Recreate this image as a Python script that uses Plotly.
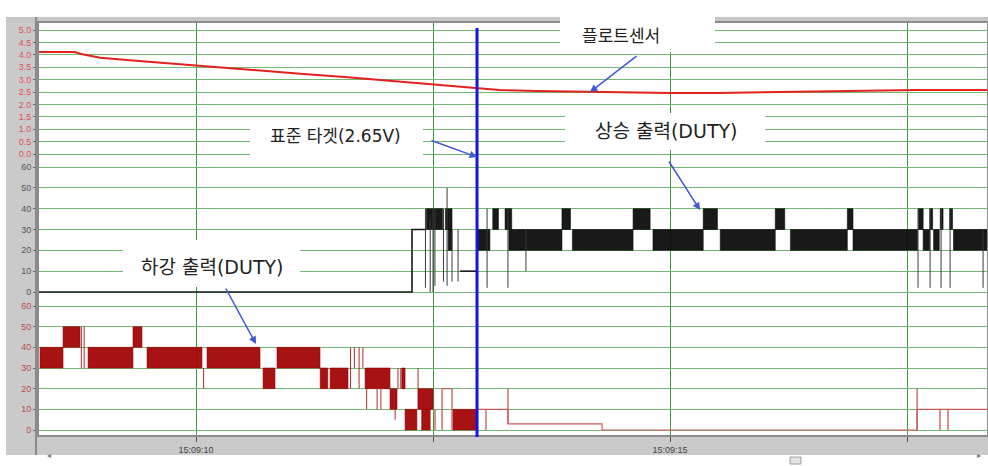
import plotly.graph_objects as go
from plotly.subplots import make_subplots

# ---------------------------------------------------------------
# Data (time = seconds after 15:09:00)
# ---------------------------------------------------------------
X_RANGE = [8.333, 18.354]
GRID_T = [7.5, 10.0, 12.5, 15.0, 17.5]
GRID_LABELS = ["", "15:09:10", "", "15:09:15", ""]

# float sensor voltage
SENSOR_T = [8.333, 8.72, 8.80, 8.99, 9.30, 9.65, 10.0, 10.5, 11.1, 11.6, 12.2,
            12.5, 12.96, 13.2, 13.6, 14.2, 15.0, 15.5, 16.4, 17.0, 17.6, 18.354]
SENSOR_V = [4.11, 4.11, 4.02, 3.88, 3.78, 3.67, 3.56, 3.40, 3.24, 3.10, 2.91,
            2.80, 2.65, 2.58, 2.54, 2.50, 2.46, 2.46, 2.52, 2.56, 2.58, 2.58]

# time at which the sensor reaches the 2.65 V target
TARGET_T = 12.964

# rising output duty: steady runs (step form), toggling bands, transients
RISE_STEP_T = [8.333, 12.278, 12.416, None, 12.785, 12.964]
RISE_STEP_V = [0, 30, 30, None, 10, 10]
RISE_BANDS = [  # (start, end, low duty, high duty)
    (12.43, 12.60, 30, 40), (12.63, 12.70, 30, 40), (12.66, 12.70, 20, 30),
    (12.975, 13.10, 20, 30), (13.13, 13.19, 30, 40), (13.26, 13.33, 30, 40),
    (13.30, 13.86, 20, 30), (13.86, 13.95, 30, 40), (13.97, 14.61, 20, 30),
    (14.61, 14.79, 30, 40), (14.82, 15.35, 20, 30), (15.35, 15.50, 30, 40),
    (15.53, 16.11, 20, 30), (16.11, 16.21, 30, 40), (16.27, 16.87, 20, 30),
    (16.87, 16.93, 30, 40), (16.93, 17.61, 20, 30), (17.62, 17.67, 30, 40),
    (17.67, 17.74, 20, 30), (17.74, 17.77, 30, 40), (17.78, 17.84, 20, 30),
    (17.85, 17.88, 30, 40), (17.95, 17.98, 30, 40), (17.99, 18.354, 20, 30),
]
RISE_SPIKES = [  # (time, low duty, high duty)
    (12.42, 2, 40), (12.47, 0, 35), (12.50, 0, 40), (12.52, 3, 40),
    (12.61, 5, 40), (12.648, 3, 50), (12.70, 5, 30), (12.764, 5, 30),
    (13.07, 2, 40), (13.29, 2, 40), (13.48, 10, 30), (17.616, 2, 40),
    (17.743, 2, 40), (17.859, 2, 40), (17.954, 2, 40), (18.302, 2, 30),
]

# falling output duty
FALL_STEP_T = [12.60, 12.70, None, 12.964, 13.291, 14.283, 17.606, 18.354]
FALL_STEP_V = [20, 20, None, 10, 3, 0, 10, 10]
FALL_BANDS = [
    (8.354, 8.597, 30, 40), (8.597, 8.776, 40, 50), (8.861, 9.335, 30, 40),
    (9.335, 9.43, 40, 50), (9.483, 10.063, 30, 40), (10.116, 10.675, 30, 40),
    (10.707, 10.833, 20, 30), (10.854, 11.308, 30, 40), (11.31, 11.39, 20, 30),
    (11.414, 11.603, 20, 30), (11.783, 12.046, 20, 30), (12.046, 12.12, 10, 20),
    (12.17, 12.205, 20, 30), (12.205, 12.33, 0, 10), (12.34, 12.50, 10, 20),
    (12.38, 12.47, 0, 10), (12.711, 12.964, 0, 10),
]
FALL_SPIKES = [
    (8.79, 30, 50), (8.82, 30, 50), (10.08, 20, 30), (11.63, 20, 40),
    (11.67, 30, 40), (11.72, 20, 40), (11.76, 30, 40), (11.80, 10, 20),
    (11.91, 10, 20), (11.95, 10, 20), (12.10, 5, 10), (12.13, 20, 30),
    (12.16, 20, 30), (12.342, 20, 30), (12.521, 0, 10), (12.595, 0, 20),
    (12.70, 0, 20), (13.059, 0, 10), (13.291, 3, 20), (17.606, 0, 20),
    (17.848, 0, 10), (17.932, 0, 10),
]

VOLT_TICKS = [0.0, 0.5, 1.0, 1.5, 2.0, 2.5, 3.0, 3.5, 4.0, 4.5, 5.0]
DUTY_TICKS = [0, 10, 20, 30, 40, 50, 60]

LABEL_SENSOR = "플로트센서"
LABEL_TARGET = "표준 타겟(2.65V)"
LABEL_RISE = "상승 출력(DUTY)"
LABEL_FALL = "하강 출력(DUTY)"

# ---------------------------------------------------------------
# Helpers
# ---------------------------------------------------------------
def band_path(bands):
    xs, ys = [], []
    for t0, t1, lo, hi in bands:
        xs += [t0, t1, t1, t0, t0, None]
        ys += [lo, lo, hi, hi, lo, None]
    return xs, ys


def spike_path(spikes):
    xs, ys = [], []
    for t, lo, hi in spikes:
        xs += [t, t, None]
        ys += [lo, hi, None]
    return xs, ys


# figure geometry (pixels)
W, H = 988, 466
ML, MR, MT, MB = 38, 0, 22, 30
PW, PH = W - ML - MR, H - MT - MB


def px(x):
    return (x - ML) / PW


def py(y):
    return (H - MB - y) / PH


fig = make_subplots(rows=3, cols=1, shared_xaxes=True, vertical_spacing=0)

# float sensor
fig.add_trace(go.Scatter(x=SENSOR_T, y=SENSOR_V, mode="lines",
                         line=dict(color="#e3221f", width=2)), row=1, col=1)

# rising output
bx, by = band_path(RISE_BANDS)
fig.add_trace(go.Scatter(x=bx, y=by, mode="lines", fill="toself",
                         fillcolor="rgba(8,8,8,0.93)",
                         line=dict(color="rgba(8,8,8,0.93)", width=0.6)), row=2, col=1)
sx, sy = spike_path(RISE_SPIKES)
fig.add_trace(go.Scatter(x=sx, y=sy, mode="lines",
                         line=dict(color="#3a3a3a", width=1)), row=2, col=1)
fig.add_trace(go.Scatter(x=RISE_STEP_T, y=RISE_STEP_V, mode="lines",
                         line=dict(color="#1a1a1a", width=1.6, shape="hv")), row=2, col=1)

# falling output
bx, by = band_path(FALL_BANDS)
fig.add_trace(go.Scatter(x=bx, y=by, mode="lines", fill="toself",
                         fillcolor="rgba(160,0,0,0.93)",
                         line=dict(color="rgba(160,0,0,0.93)", width=0.6)), row=3, col=1)
sx, sy = spike_path(FALL_SPIKES)
fig.add_trace(go.Scatter(x=sx, y=sy, mode="lines",
                         line=dict(color="#b02a2a", width=1)), row=3, col=1)
fig.add_trace(go.Scatter(x=FALL_STEP_T, y=FALL_STEP_V, mode="lines",
                         line=dict(color="#c85a5a", width=1.2, shape="hv")), row=3, col=1)

# ---------------------------------------------------------------
# Axes
# ---------------------------------------------------------------
HGRID = "#72b872"
VGRID = "#3f9a3f"
tick_font = dict(family="Liberation Sans, Arial, sans-serif", size=9)

for i in (1, 2, 3):
    fig.update_xaxes(row=i, col=1, range=X_RANGE, tickmode="array",
                     tickvals=GRID_T, ticktext=GRID_LABELS,
                     showgrid=True, gridcolor=VGRID, gridwidth=1,
                     zeroline=False, showline=False,
                     showticklabels=(i == 3),
                     ticks="outside" if i == 3 else "", ticklen=5,
                     tickcolor="#555555",
                     tickfont=dict(family="Liberation Sans, Arial, sans-serif",
                                   size=9, color="#444444"))

# panel domains: three equal bands; ranges leave a small pad around ticks
fig.update_yaxes(row=1, col=1, domain=[2 / 3, 1], range=[-0.242, 5.323],
                 tickmode="array", tickvals=VOLT_TICKS,
                 ticktext=[f"{v:.1f}" for v in VOLT_TICKS],
                 tickfont=dict(tick_font, color="#e2505a"))
fig.update_yaxes(row=2, col=1, domain=[1 / 3, 2 / 3], range=[-2.88, 63.36],
                 tickmode="array", tickvals=DUTY_TICKS,
                 ticktext=[str(v) for v in DUTY_TICKS],
                 tickfont=dict(tick_font, color="#555555"))
fig.update_yaxes(row=3, col=1, domain=[0, 1 / 3], range=[-2.90, 63.87],
                 tickmode="array", tickvals=DUTY_TICKS,
                 ticktext=[str(v) for v in DUTY_TICKS],
                 tickfont=dict(tick_font, color="#b84a4a"))
fig.update_yaxes(showgrid=True, gridcolor=HGRID, gridwidth=1, zeroline=False,
                 showline=False, ticks="outside", ticklen=4, tickcolor="#666666")


# ---------------------------------------------------------------
# Frame decoration (window chrome around the plot area)
# ---------------------------------------------------------------
def white_box(x0, x1, y0, y1):
    return dict(type="rect", xref="paper", yref="paper",
                x0=px(x0), x1=px(x1), y0=py(y1), y1=py(y0),
                fillcolor="white", line_width=0, layer="above")


shapes = [
    # left label strip
    dict(type="rect", xref="paper", yref="paper", x0=px(6), x1=px(38),
         y0=py(455), y1=py(17), fillcolor="#cacaca", line_width=0, layer="below"),
    # top band
    dict(type="rect", xref="paper", yref="paper", x0=px(6), x1=1,
         y0=1, y1=py(17), fillcolor="#c6c6c6", line_width=0, layer="below"),
    # bottom time-axis band
    dict(type="rect", xref="paper", yref="paper", x0=0, x1=1,
         y0=py(455), y1=0, fillcolor="#cacaca", line_width=0, layer="below"),
    # scrollbar thumb
    dict(type="rect", xref="paper", yref="paper", x0=px(790), x1=px(801),
         y0=py(464), y1=py(457), fillcolor="#e4e4e4",
         line=dict(color="#a0a0a0", width=1), layer="below"),
    # left edge of the plot area
    dict(type="line", xref="paper", yref="paper", x0=px(36), x1=px(36),
         y0=py(455), y1=py(17), line=dict(color="#8a8a8a", width=2)),
    # plot border
    dict(type="rect", xref="paper", yref="paper", x0=0, x1=1, y0=0, y1=1,
         line=dict(color="#8c8c8c", width=2), fillcolor="rgba(0,0,0,0)"),
    # target marker
    dict(type="line", xref="x", yref="paper", x0=TARGET_T, x1=TARGET_T,
         y0=py(437), y1=py(28), line=dict(color="#1414e6", width=3)),
    # label backgrounds
    white_box(560, 715, 15, 52),
    white_box(250, 423, 118, 155),
    white_box(565, 765, 113, 150),
    white_box(123, 300, 240, 287),
]

# ---------------------------------------------------------------
# Callouts
# ---------------------------------------------------------------
ARROW = "#3f58d8"
label_font = dict(family="DejaVu Sans, Noto Sans CJK KR, sans-serif",
                  size=17, color="#222222")


def callout(text, cx, cy, size=17):
    return dict(text=text, xref="paper", yref="paper", x=px(cx), y=py(cy),
                xanchor="center", yanchor="middle", showarrow=False,
                font=dict(label_font, size=size))


def arrow(tail, head):
    return dict(text="", xref="paper", yref="paper", x=px(head[0]), y=py(head[1]),
                ax=tail[0] - head[0], ay=tail[1] - head[1], showarrow=True,
                arrowhead=2, arrowsize=1, arrowwidth=1.5, arrowcolor=ARROW,
                standoff=0, startstandoff=0)


annotations = [
    callout(LABEL_SENSOR, 621, 36),
    callout(LABEL_TARGET, 335, 136),
    callout(LABEL_RISE, 666, 131, size=19),
    callout(LABEL_FALL, 212, 267, size=19),
    arrow((638, 55), (590, 92)),
    arrow((430, 140), (477, 157)),
    arrow((668, 160), (700, 210)),
    arrow((225, 287), (256, 344)),
    dict(text="◂", xref="paper", yref="paper", x=px(45), y=py(462),
         showarrow=False, font=dict(size=8, color="#777777")),
    dict(text="▸", xref="paper", yref="paper", x=px(983), y=py(462),
         showarrow=False, font=dict(size=8, color="#777777")),
]

fig.update_layout(
    width=W, height=H,
    margin=dict(l=ML, r=MR, t=MT, b=MB, pad=0),
    paper_bgcolor="white", plot_bgcolor="white",
    showlegend=False,
    shapes=shapes,
    annotations=annotations,
)

fig.write_html("out.html")
